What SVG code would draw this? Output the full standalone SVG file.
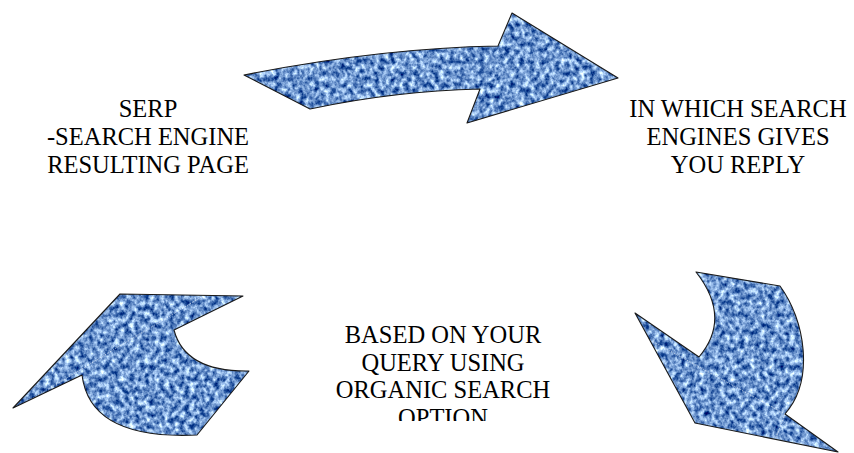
<svg xmlns="http://www.w3.org/2000/svg" width="854" height="453" viewBox="0 0 854 453">
<style>
.lbl{font-family:"Liberation Serif","Times New Roman","DejaVu Serif",serif;font-size:24.5px;fill:#000;text-anchor:middle}
.edge{fill:none;stroke:#1a1a1a;stroke-width:1.1;stroke-linejoin:round}
.seam{fill:none;stroke:#ffffff;stroke-width:0.8;stroke-dasharray:1.5 1.5;opacity:0.7}
</style>
<defs>
<filter id="linen" x="0" y="0" width="1" height="1" filterUnits="objectBoundingBox" color-interpolation-filters="sRGB">
<feTurbulence type="fractalNoise" baseFrequency="0.2 0.17" numOctaves="3" seed="7" result="n"/>
<feColorMatrix in="n" type="matrix" values="1.6 0 0 0 -0.37  1.45 0 0 0 -0.14  1.05 0 0 0 0.28  0 0 0 0 1" result="c"/>
<feComposite in="c" in2="SourceAlpha" operator="in"/>
</filter>
<path id="pTop" d="M244,75 Q380,48 498,46 L512,13 L618,78 L467,123 L480,89 Q395,91 310,109 Z"/>
<path id="pBL" d="M120,294 L243,296 L174,330 Q185,372 249,371 L197,435 Q90,440 82,375 L13,408 Z"/>
<path id="pBR" d="M696,272 L780,286 C805,320 815,380 785,414 L838,452 L695,423 L635,313 L699,357 Q732,318 696,272 Z"/>
<clipPath id="clipBottom"><rect x="300" y="300" width="300" height="121"/></clipPath>
</defs>
<g id="connectors">
<g id="arrow-top">
<use href="#pTop" fill="#6d8fc8" filter="url(#linen)"/>
<use href="#pTop" class="edge"/>
</g>
<g id="arrow-bottom-right">
<use href="#pBR" fill="#6d8fc8" filter="url(#linen)"/>
<line class="seam" x1="650" y1="340" x2="785" y2="414"/>
<line class="seam" x1="785" y1="414" x2="775" y2="440"/>
<use href="#pBR" class="edge"/>
</g>
<g id="arrow-bottom-left">
<use href="#pBL" fill="#6d8fc8" filter="url(#linen)"/>
<line class="seam" x1="20" y1="406" x2="203" y2="296"/>
<use href="#pBL" class="edge"/>
</g>
</g>
<g id="node-serp">
<text class="lbl" x="148" y="117">SERP</text>
<text class="lbl" x="148" y="145">-SEARCH ENGINE</text>
<text class="lbl" x="148" y="173">RESULTING PAGE</text>
</g>
<g id="node-reply">
<text class="lbl" x="738" y="117">IN WHICH SEARCH</text>
<text class="lbl" x="738" y="145">ENGINES GIVES</text>
<text class="lbl" x="738" y="173">YOU REPLY</text>
</g>
<g id="node-organic" clip-path="url(#clipBottom)">
<text class="lbl" x="443" y="343">BASED ON YOUR</text>
<text class="lbl" x="443" y="371">QUERY USING</text>
<text class="lbl" x="443" y="398">ORGANIC SEARCH</text>
<text class="lbl" x="443" y="426">OPTION</text>
</g>
</svg>
